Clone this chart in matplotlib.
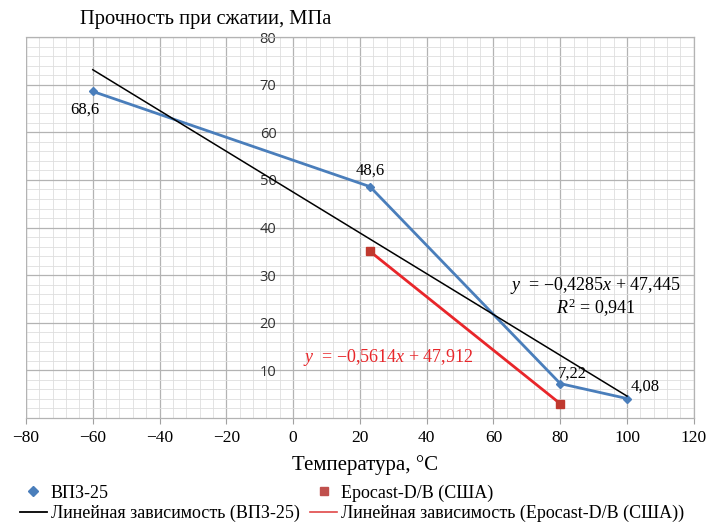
import numpy as np
import matplotlib
matplotlib.use("Agg")
import matplotlib.pyplot as plt
from matplotlib.lines import Line2D
from matplotlib.ticker import MultipleLocator

plt.rcParams["mathtext.fontset"] = "custom"
plt.rcParams["mathtext.it"] = "Liberation Serif:italic"
plt.rcParams["mathtext.rm"] = "Liberation Serif"

# Data
vpz_x = [-60, 23, 80, 100]
vpz_y = [68.6, 48.6, 7.22, 4.08]
vpz_labels = ["68,6", "48,6", "7,22", "4,08"]
epo_x = [23, 80]
epo_y = [35.0, 3.0]
x_ticks = [-80, -60, -40, -20, 0, 20, 40, 60, 80, 100, 120]
x_ticklabels = ["\u221280", "\u221260", "\u221240", "\u221220", "0", "20", "40", "60", "80", "100", "120"]
y_ticks = [10, 20, 30, 40, 50, 60, 70, 80]

serif = "Liberation Serif"
sans = "Open Sans"

fig = plt.figure(figsize=(7.08, 5.23), dpi=100)
ax = fig.add_axes([0.0367, 0.2008, 0.9433, 0.7282])
ax.set_xlim(-80, 120)
ax.set_ylim(0, 80)

ax.xaxis.set_major_locator(MultipleLocator(20))
ax.xaxis.set_minor_locator(MultipleLocator(4))
ax.yaxis.set_major_locator(MultipleLocator(10))
ax.yaxis.set_minor_locator(MultipleLocator(2))
ax.grid(which="major", color="#b3b3b3", lw=0.9, zorder=0)
ax.grid(which="minor", color="#dedede", lw=0.6, zorder=0)
ax.set_axisbelow(True)

ax.set_xticks(x_ticks)
ax.set_xticklabels(x_ticklabels, fontfamily=serif, fontsize=12.5)
ax.tick_params(axis="x", which="major", length=4, color="#a0a0a0", pad=5)
ax.tick_params(axis="x", which="minor", length=0)

ax.spines["left"].set_position(("data", 0))
ax.spines["left"].set_visible(False)
ax.set_yticks(y_ticks)
ax.set_yticklabels([str(v) for v in y_ticks], fontfamily=sans, fontsize=10.5, color="#303030")
ax.tick_params(axis="y", which="both", length=0, pad=12)
for s in ["top", "right", "bottom"]:
    ax.spines[s].set_color("#b3b3b3")
    ax.spines[s].set_linewidth(0.9)

# frame at left edge
ax.axvline(-80, color="#b3b3b3", lw=0.9, zorder=1)

blue = "#4a7ebb"
red = "#e8262a"
ax.plot(vpz_x, vpz_y, color=blue, lw=2, marker="D", ms=4, zorder=3)
ax.plot(epo_x, epo_y, color=red, lw=2, zorder=3)
ax.plot(epo_x, epo_y, ls="none", marker="s", ms=6, color="#c0392f", zorder=4)

# linear trend for VPZ-25
k, b = np.polyfit(vpz_x, vpz_y, 1)
tx = np.array([min(vpz_x), max(vpz_x)])
ax.plot(tx, k * tx + b, color="black", lw=1.1, zorder=3)

# data labels
offs = [(-6, -13), (0, 11.5), (9, 7.5), (13, 8.5)]
for xv, yv, lab, (dx, dy) in zip(vpz_x, vpz_y, vpz_labels, offs):
    ax.annotate(lab, (xv, yv), xytext=(dx, dy), textcoords="offset points",
                ha="center", va="center", fontfamily=serif, fontsize=12)

ax.text(0.852, 0.347, "$\\mathit{y}$  = \u22120,4285$\\mathit{x}$ + 47,445",
        transform=ax.transAxes, ha="center", va="center", fontfamily=serif, fontsize=13)
ax.text(0.853, 0.289, "$\\mathit{R}^2$ = 0,941", transform=ax.transAxes, ha="center",
        va="center", fontfamily=serif, fontsize=13)
ax.text(0.542, 0.160, "$\\mathit{y}$  = \u22120,5614$\\mathit{x}$ + 47,912", transform=ax.transAxes,
        ha="center", va="center", fontfamily=serif, fontsize=13, color=red)

fig.text(0.29, 0.963, "Прочность при сжатии, МПа", ha="center", va="center",
         fontfamily=serif, fontsize=14.8)
fig.text(0.515, 0.11, "Температура, °С", ha="center", va="center",
         fontfamily=serif, fontsize=15)

handles = [
    Line2D([], [], ls="none", marker="D", ms=5.5, color=blue),
    Line2D([], [], color="black", lw=1.3),
    Line2D([], [], ls="none", marker="s", ms=6, color="#c0504d"),
    Line2D([], [], color="#e04848", lw=1.2),
]
labels = ["ВПЗ-25", "Линейная зависимость (ВПЗ-25)", "Epocast-D/B (США)",
          "Линейная зависимость (Epocast-D/B (США))"]
fig.legend(handles, labels, ncol=2, loc="upper left", bbox_to_anchor=(0.028, 0.074),
           frameon=False, prop={"family": serif, "size": 13}, handlelength=1.5,
           handletextpad=0.2, columnspacing=0.6, labelspacing=0.18, borderpad=0,
           borderaxespad=0)

fig.savefig("out.png", dpi=100)
